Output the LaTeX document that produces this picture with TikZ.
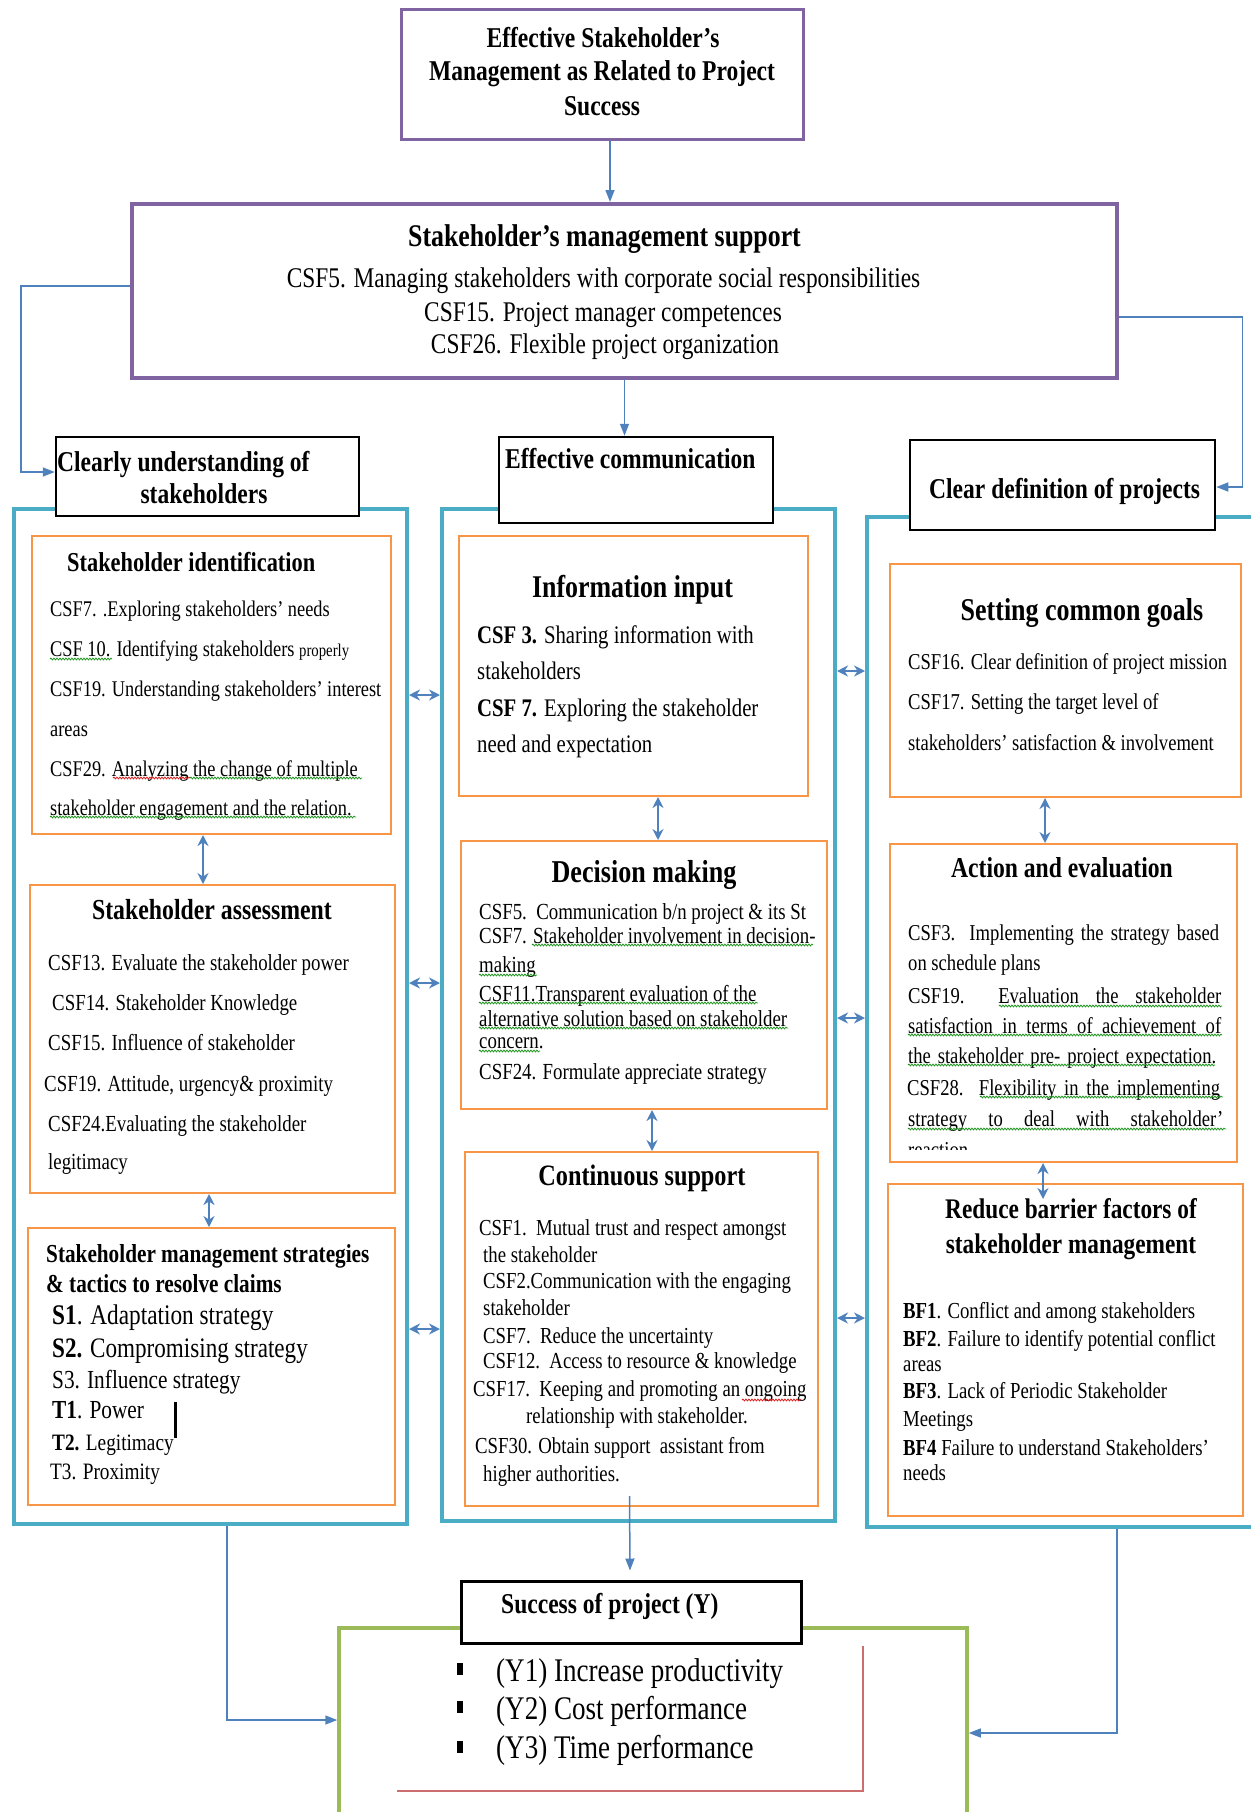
\documentclass[tikz,border=0pt]{standalone}
\usepackage{fontspec}
\setmainfont{Liberation Serif}[FakeStretch=0.82]
\usetikzlibrary{arrows.meta,decorations.pathmorphing}
\definecolor{purp}{RGB}{128,100,162}
\definecolor{tealc}{RGB}{75,172,198}
\definecolor{orng}{RGB}{247,150,70}
\definecolor{grn}{RGB}{155,187,89}
\definecolor{redl}{RGB}{205,110,110}
\definecolor{arrb}{RGB}{79,129,189}
\definecolor{squig}{RGB}{30,150,30}
\definecolor{squigr}{RGB}{220,30,30}
\newcommand\FS[1]{\fontsize{#1}{#1}\selectfont}
\tikzset{
  box/.style={draw, inner sep=0pt},
  purplebox/.style={box, draw=purp, line width=3pt, fill=white},
  tealbox/.style={box, draw=tealc, line width=4pt},
  hdr/.style={box, draw=black, line width=2.5pt, fill=white},
  obox/.style={box, draw=orng, line width=2pt, fill=white},
  greenbox/.style={box, draw=grn, line width=3.5pt},
  lt/.style={inner sep=0pt, anchor=mid west, yshift=-6pt},
  ct/.style={inner sep=0pt, anchor=mid, yshift=-6pt},
  arr/.style={draw=arrb, line width=1.5pt, -{Triangle[length=12pt,width=9pt]}},
  darr/.style={draw=arrb, line width=2pt, {Stealth[length=11pt,width=11pt]}-{Stealth[length=11pt,width=11pt]}},
  sqg/.style={draw=squig, line width=0.8pt, decorate, decoration={snake, amplitude=0.9pt, segment length=3pt}},
  sqr/.style={draw=squigr, line width=0.8pt, decorate, decoration={snake, amplitude=0.9pt, segment length=3pt}},
}
\begin{document}
\begin{tikzpicture}[x=1pt,y=-1pt]
\useasboundingbox (0,0) rectangle (1250,1812);
% top boxes
\node[purplebox, minimum width=402pt, minimum height=130pt] (top) at (602,74) {};
\node[purplebox, line width=4pt, minimum width=985pt, minimum height=174pt] (support) at (624.5,291) {};
% containers
\node[tealbox, minimum width=393pt, minimum height=1015pt] (lc) at (210.5,1016.5) {};
\node[tealbox, minimum width=393pt, minimum height=1012pt] (mc) at (638.5,1015) {};
\node[tealbox, minimum width=395pt, minimum height=1010pt] (rc) at (1064.5,1022) {};
% headers
\node[hdr, minimum width=303pt, minimum height=79pt] (cu) at (207.5,476.5) {};
\node[hdr, minimum width=274pt, minimum height=86pt] (ec) at (636,480) {};
\node[hdr, minimum width=305pt, minimum height=90pt] (cd) at (1062.5,485) {};
% inner boxes
\node[obox, minimum width=359pt, minimum height=298pt] (id) at (211.5,685) {};
\node[obox, minimum width=365pt, minimum height=308pt] (as) at (212.5,1039) {};
\node[obox, minimum width=367pt, minimum height=277pt] (st) at (211.5,1366.5) {};
\node[obox, minimum width=349pt, minimum height=260pt] (ii) at (633.5,666) {};
\node[obox, minimum width=366pt, minimum height=268pt] (dm) at (644,975) {};
\node[obox, minimum width=353pt, minimum height=354pt] (cs) at (641.5,1329) {};
\node[obox, minimum width=351pt, minimum height=233pt] (sg) at (1065.5,680.5) {};
\node[obox, minimum width=347pt, minimum height=318pt] (ae) at (1063.5,1003) {};
\node[obox, minimum width=355pt, minimum height=332pt] (rb) at (1065.5,1350) {};
% bottom
\node[greenbox, minimum width=628pt, minimum height=212pt] (green) at (653,1734) {};
\node[box, draw=black, line width=3pt, fill=white, minimum width=340pt, minimum height=62pt] (succ) at (631,1612) {};
\draw[redl, line width=2pt] (863,1646) -- (863,1791) -- (397,1791);

% connectors
\draw[arr] ([xshift=8pt]top.south) -- ([xshift=-14.5pt]support.north);
\draw[arr] (support.south) -- (support.south |- ec.north);
\draw[arr] ([yshift=5pt]support.west) -| ([xshift=-34pt,yshift=4.5pt]cu.west) -- ([yshift=4.5pt]cu.west);
\draw[arr] ([yshift=-26pt]support.east) -| ([xshift=26pt,yshift=-2pt]cd.east) -- ([yshift=-2pt]cd.east);
\draw[arr] ([xshift=16.5pt]lc.south) |- ([yshift=14pt]green.west);
\draw[arr] ([xshift=52.5pt]rc.south) |- ([yshift=1pt]green.east);
\draw[arr] ([xshift=-12pt,yshift=11pt]cs.south) -- ([xshift=-1pt,yshift=9pt]succ.north);
% double arrows between containers
\draw[darr] ([yshift=321.5pt]lc.east) -- ([yshift=320pt]mc.west);
\draw[darr] ([yshift=33.5pt]lc.east) -- ([yshift=32pt]mc.west);
\draw[darr] ([yshift=-312.5pt]lc.east) -- ([yshift=-314pt]mc.west);
\draw[darr] ([yshift=344pt]mc.east) -- ([yshift=351pt]rc.west);
\draw[darr] ([yshift=-3pt]mc.east) -- ([yshift=4pt]rc.west);
\draw[darr] ([yshift=-303pt]mc.east) -- ([yshift=-296pt]rc.west);
% double arrows inside columns
\draw[darr] ([xshift=-8.5pt]id.south) -- ([xshift=-9.5pt]as.north);
\draw[darr] ([xshift=-3.5pt]as.south) -- ([xshift=-2.5pt]st.north);
\draw[darr] ([xshift=24.5pt]ii.south) -- ([xshift=14pt]dm.north);
\draw[darr] ([xshift=8pt]dm.south) -- ([xshift=10.5pt]cs.north);
\draw[darr] ([xshift=-20.5pt]sg.south) -- ([xshift=-18.5pt]ae.north);
\draw[darr] ([xshift=-20.5pt]ae.south) -- ([xshift=-22.5pt,yshift=-16pt]rb.north);

% ---- texts ----
\begin{scope}[every node/.append style={font=\bfseries\FS{28.7}}]
\node[ct] (tt1) at (603,39) {Effective Stakeholder’s};
\node[ct] (tt2) at (602,72) {Management as Related to Project};
\node[ct] (tt3) at (602,107) {Success};
\node[lt] (cut1) at (57,463) {Clearly understanding of};
\node[ct] (cut2) at (204,495) {stakeholders};
\node[lt] (ect) at (505,460) {Effective communication};
\node[lt] (cdt) at (929,490) {Clear definition of projects};
\node[lt] (sct) at (501,1605) {Success of project (Y)};
\end{scope}
\node[ct, font=\bfseries\FS{31.5}] (supt) at (604.5,238) {Stakeholder’s management support};
\begin{scope}[every node/.append style={font=\FS{28.5}}]
\node[ct] (sup1) at (603.5,279) {CSF5. Managing stakeholders with corporate social responsibilities};
\node[ct] (sup2) at (603,313) {CSF15. Project manager competences};
\node[ct] (sup3) at (605,345) {CSF26. Flexible project organization};
\end{scope}

% identification
\node[lt, font=\bfseries\FS{27.3}] (idt) at (67,563) {Stakeholder identification};
\begin{scope}[every node/.append style={font=\FS{22.4}}]
\node[lt] (id1) at (50,608) {CSF7. .Exploring stakeholders’ needs};
\node[lt] (id2) at (50,648) {CSF 10. Identifying stakeholders {\FS{18}properly}};
\node[lt] (id3) at (50,688) {CSF19. Understanding stakeholders’ interest};
\node[lt] (id4) at (50,728) {areas};
\node[lt] (id5) at (50,768) {CSF29. Analyzing the change of multiple};
\node[lt] (id6) at (50,807) {stakeholder engagement and the relation.};
\end{scope}
% assessment
\node[ct, font=\bfseries\FS{29}] (ast) at (212,911) {Stakeholder assessment};
\begin{scope}[every node/.append style={font=\FS{23}}]
\node[lt] (as1) at (48,962) {CSF13. Evaluate the stakeholder power};
\node[lt] (as2) at (52,1002) {CSF14. Stakeholder Knowledge};
\node[lt] (as3) at (48,1042) {CSF15. Influence of stakeholder};
\node[lt] (as4) at (44,1083) {CSF19. Attitude, urgency\& proximity};
\node[lt] (as5) at (48,1123) {CSF24.Evaluating the stakeholder};
\node[lt] (as6) at (48,1161) {legitimacy};
\end{scope}
% strategies
\begin{scope}[every node/.append style={font=\bfseries\FS{25.9}}]
\node[lt] (stt1) at (46,1254) {Stakeholder management strategies};
\node[lt] (stt2) at (46,1284) {\& tactics to resolve claims};
\end{scope}
\node[lt, font=\FS{28.4}] (st1) at (52,1316) {\textbf{S1}. Adaptation strategy};
\node[lt, font=\FS{28.2}] (st2) at (52,1349) {\textbf{S2.} Compromising strategy};
\node[lt, font=\FS{26}] (st3) at (52,1380) {S3. Influence strategy};
\node[lt, font=\FS{26}] (st4) at (52,1410) {\textbf{T1}. Power};
\node[lt, font=\FS{23.5}] (st5) at (52,1442) {\textbf{T2.} Legitimacy};
\node[lt, font=\FS{23.5}] (st6) at (50,1471) {T3. Proximity};
\draw[line width=3pt] (175,1402) -- (175,1438);

% information input
\node[ct, font=\bfseries\FS{31.6}] (iit) at (632.5,589) {Information input};
\begin{scope}[every node/.append style={font=\FS{25.3}}]
\node[lt] (ii1) at (477,635) {\textbf{CSF 3.} Sharing information with};
\node[lt] (ii2) at (477,671) {stakeholders};
\node[lt] (ii3) at (477,708) {\textbf{CSF 7.} Exploring the stakeholder};
\node[lt] (ii4) at (477,744) {need and expectation};
\end{scope}
% decision making
\node[ct, font=\bfseries\FS{31.8}] (dmt) at (644,874) {Decision making};
\begin{scope}[every node/.append style={font=\FS{23}}]
\node[lt] (dm1) at (479,911) {CSF5.\ \ Communication b/n project \& its St};
\node[lt] (dm2) at (479,935) {CSF7. Stakeholder involvement in decision-};
\node[lt] (dm3) at (479,964) {making};
\node[lt] (dm4) at (479,993) {CSF11.Transparent evaluation of the};
\node[lt] (dm5) at (479,1018) {alternative solution based on stakeholder};
\node[lt] (dm6) at (479,1040) {concern.};
\node[lt] (dm7) at (479,1071) {CSF24. Formulate appreciate strategy};
\end{scope}
% continuous support
\node[ct, font=\bfseries\FS{29.6}] (cst) at (642,1177) {Continuous support};
\begin{scope}[every node/.append style={font=\FS{22.9}}]
\node[lt] (cs1) at (479,1227) {CSF1.\ \ Mutual trust and respect amongst};
\node[lt] (cs2) at (483,1254) {the stakeholder};
\node[lt] (cs3) at (483,1280) {CSF2.Communication with the engaging};
\node[lt] (cs4) at (483,1307) {stakeholder};
\node[lt] (cs5) at (483,1335) {CSF7.\ \ Reduce the uncertainty};
\node[lt] (cs6) at (483,1360) {CSF12.\ \ Access to resource \& knowledge};
\node[lt] (cs7) at (473,1388) {CSF17.\ \ Keeping and promoting an ongoing};
\node[lt] (cs8) at (526,1415) {relationship with stakeholder.};
\node[lt] (cs9) at (475,1445) {CSF30. Obtain support\ \ assistant from};
\node[lt] (cs10) at (483,1473) {higher authorities.};
\end{scope}
% setting common goals
\node[ct, font=\bfseries\FS{31.7}] (sgt) at (1082,612) {Setting common goals};
\begin{scope}[every node/.append style={font=\FS{22.7}}]
\node[lt] (sg1) at (908,661) {CSF16. Clear definition of project mission};
\node[lt] (sg2) at (908,701) {CSF17. Setting the target level of};
\node[lt] (sg3) at (908,742) {stakeholders’ satisfaction \& involvement};
\end{scope}
% action and evaluation
\node[ct, font=\bfseries\FS{28.8}] (aet) at (1062,869) {Action and evaluation};
\begin{scope}[every node/.append style={font=\FS{22.7}}]
\node[lt] (ae1) at (908,932) {\makebox[311pt][s]{CSF3.\ \ Implementing the strategy based}};
\node[lt] (ae2) at (908,962) {on schedule plans};
\node[lt] (ae3) at (908,995) {\makebox[313pt][s]{CSF19.\ \ Evaluation the stakeholder}};
\node[lt] (ae4) at (908,1025) {\makebox[313pt][s]{satisfaction in terms of achievement of}};
\node[lt] (ae5) at (908,1055) {\makebox[308pt][s]{the stakeholder pre- project expectation.}};
\node[lt] (ae6) at (907,1087) {\makebox[313pt][s]{CSF28. Flexibility in the implementing}};
\node[lt] (ae7) at (908,1118) {\makebox[315pt][s]{strategy to deal with stakeholder’}};
\begin{scope}
\clip (890,1100) rectangle (1237,1149);
\node[lt] (ae8) at (908,1149) {reaction};
\end{scope}
\end{scope}
% reduce barrier
\begin{scope}[every node/.append style={font=\bfseries\FS{28.4}}]
\node[ct] (rbt1) at (1071,1210) {Reduce barrier factors of};
\node[ct] (rbt2) at (1071,1245) {stakeholder management};
\end{scope}
\begin{scope}[every node/.append style={font=\FS{22.9}}]
\node[lt] (rb1) at (903,1310) {\textbf{BF1}. Conflict and among stakeholders};
\node[lt] (rb2) at (903,1338) {\textbf{BF2}. Failure to identify potential conflict};
\node[lt] (rb3) at (903,1363) {areas};
\node[lt] (rb4) at (903,1390) {\textbf{BF3}. Lack of Periodic Stakeholder};
\node[lt] (rb5) at (903,1418) {Meetings};
\node[lt] (rb6) at (903,1447) {\textbf{BF4} Failure to understand Stakeholders’};
\node[lt] (rb7) at (903,1472) {needs};
\end{scope}
% success items
\foreach \yy in {1669,1707,1747} \fill (457,\yy-6) rectangle (463,\yy+6);
\begin{scope}[every node/.append style={font=\FS{33}}]
\node[lt] (y1) at (496,1673) {(Y1) Increase productivity};
\node[lt] (y2) at (496,1711) {(Y2) Cost performance};
\node[lt] (y3) at (496,1750) {(Y3) Time performance};
\end{scope}

% spelling squiggles
\draw[sqg] (50,659) -- (112,659);
\draw[sqr] (113,778) -- (190,778);
\draw[sqg] (190,778) -- (362,778);
\draw[sqg] (50,817) -- (356,817);
\draw[sqg] (532,945) -- (813,945);
\draw[sqg] (479,975) -- (537,975);
\draw[sqg] (479,1003) -- (758,1003);
\draw[sqg] (479,1028) -- (788,1028);
\draw[sqg] (479,1051) -- (540,1051);
\draw[sqr] (742,1400) -- (802,1400);
\draw[sqg] (999,1006) -- (1222,1006);
\draw[sqg] (908,1035) -- (1222,1035);
\draw[sqg] (908,1065) -- (1215,1065);
\draw[sqg] (980,1097) -- (1223,1097);
\draw[sqg] (908,1129) -- (1226,1129);
\end{tikzpicture}
\end{document}
